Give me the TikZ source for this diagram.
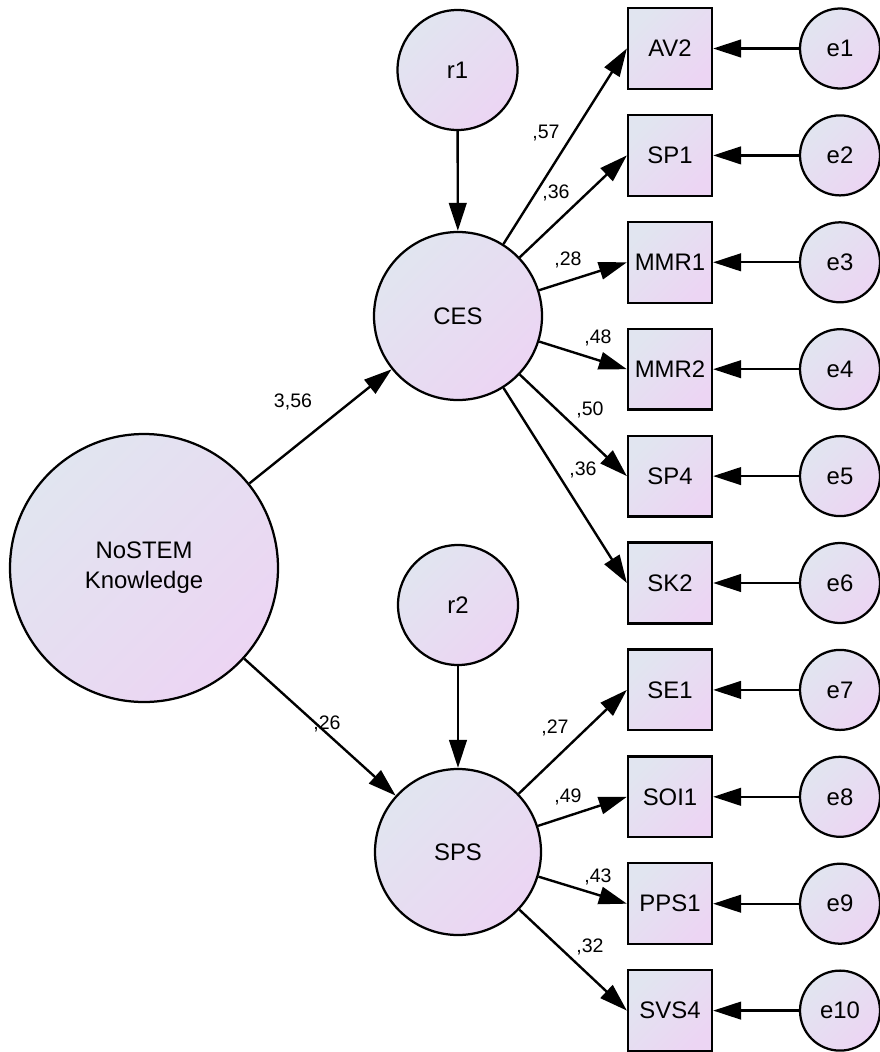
\documentclass[tikz,border=0pt]{standalone}
\usepackage{fontspec}
\setmainfont{Liberation Sans}
\usetikzlibrary{arrows.meta}
\definecolor{shadeblue}{RGB}{225,229,240}
\definecolor{shadepink}{RGB}{236,213,243}
\tikzset{
	latent/.style={circle, draw, line width=1.6pt, top color=shadeblue, bottom color=shadepink, shading angle=45, inner sep=0pt, align=center, font=\fontsize{17}{21.3}\selectfont},
	observed/.style={rectangle, draw, line width=1.6pt, top color=shadeblue, bottom color=shadepink, shading angle=45, inner sep=0pt, minimum width=2.1cm, minimum height=2.02cm, font=\fontsize{17}{21.3}\selectfont},
	effect/.style={line width=1.7pt, -{Triangle[length=7mm, width=4.4mm]}},
	coef/.style={inner sep=0pt, font=\fontsize{13.9}{16}\selectfont}
}
\begin{document}
\begin{tikzpicture}[x=0.25cm, y=-0.25cm]
	\useasboundingbox (0,0) rectangle (88,105.2);
	% latent variables
	\node [latent, minimum size=6.7cm] (know) at (14.4,56.8) {NoSTEM\\Knowledge};
	\node [latent, minimum size=4.2cm] (CES) at (45.8,31.6) {CES};
	\node [latent, minimum size=4.15cm] (SPS) at (45.8,85.2) {SPS};
	\node [latent, minimum size=3cm] (r1) at (45.75,7.0) {r1};
	\node [latent, minimum size=3cm] (r2) at (45.8,60.5) {r2};
	% indicators and their errors
	\foreach \item [count=\i] in {AV2,SP1,MMR1,MMR2,SP4,SK2,SE1,SOI1,PPS1,SVS4} {
		\node [observed] (\item) at (67,{4.85+10.69*(\i-1)}) {\item};
		\node [latent, minimum size=2cm] (e\i) at (84,{4.85+10.69*(\i-1)}) {e\i};
		\draw [effect] (e\i) -- (\item);
	}
	% structural paths
	\draw [effect] (know) -- (CES);
	\draw [effect] (know) -- (SPS);
	\draw [effect] (r1) -- (CES);
	\draw [effect] (r2) -- (SPS);
	\foreach \item in {AV2,SP1,MMR1,MMR2,SP4,SK2}
		\draw [effect] (CES) -- (\item.west);
	\foreach \item in {SE1,SOI1,PPS1,SVS4}
		\draw [effect] (SPS) -- (\item.west);
	% coefficients
	\node [coef] (c0) at (29.3,40.2) {3,56};
	\node [coef] (c1) at (32.7,72.4) {,26};
	\node [coef] (cAV2) at (54.6,13.3) {,57};
	\node [coef] (cSP1) at (55.6,19.3) {,36};
	\node [coef] (cMMR1) at (56.8,26.0) {,28};
	\node [coef] (cMMR2) at (59.8,33.8) {,48};
	\node [coef] (cSP4) at (59.0,41.0) {,50};
	\node [coef] (cSK2) at (58.3,47.0) {,36};
	\node [coef] (cSE1) at (55.5,72.8) {,27};
	\node [coef] (cSOI1) at (56.8,79.7) {,49};
	\node [coef] (cPPS1) at (59.8,87.7) {,43};
	\node [coef] (cSVS4) at (59.0,94.7) {,32};
\end{tikzpicture}
\end{document}
